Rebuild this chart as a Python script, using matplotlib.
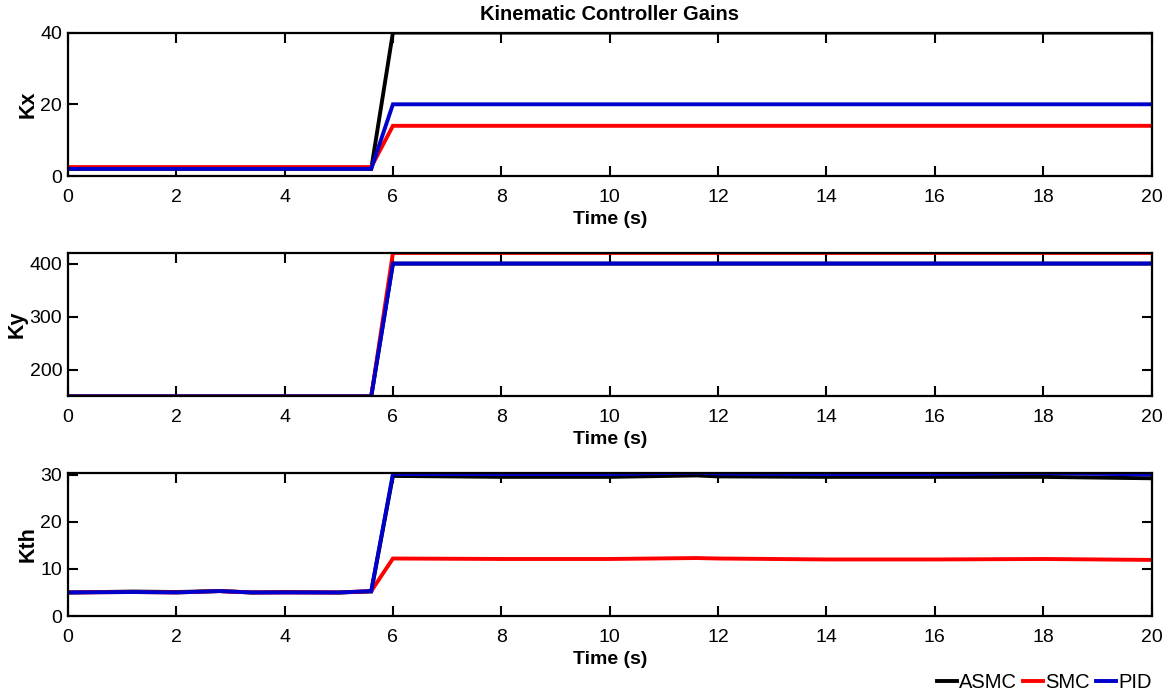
import matplotlib.pyplot as plt

plt.rcParams['font.family'] = ['Liberation Sans', 'DejaVu Sans']

# time breakpoints (s)
t = [0, 1.2, 2, 2.8, 3.4, 4, 5, 5.6, 6, 8, 10, 11.6, 12, 14, 16, 18, 20]

# Kx gains
kx_asmc = [2, 2, 2, 2, 2, 2, 2, 2, 40, 40, 40, 40, 40, 40, 40, 40, 40]
kx_smc = [2.5, 2.5, 2.5, 2.5, 2.5, 2.5, 2.5, 2.5, 14, 14, 14, 14, 14, 14, 14, 14, 14]
kx_pid = [2, 2, 2, 2, 2, 2, 2, 2, 20, 20, 20, 20, 20, 20, 20, 20, 20]

# Ky gains
ky_asmc = [150, 150, 150, 150, 150, 150, 150, 150, 400, 400, 400, 400, 400, 400, 400, 400, 400]
ky_smc = [150, 150, 150, 150, 150, 150, 150, 150, 420, 420, 420, 420, 420, 420, 420, 420, 420]
ky_pid = [150, 150, 150, 150, 150, 150, 150, 150, 400, 400, 400, 400, 400, 400, 400, 400, 400]

# Kth gains
kth_asmc = [5, 5.2, 5.1, 5.3, 5.0, 5.1, 5.0, 5.2, 29.7, 29.5, 29.5, 29.8, 29.6, 29.5, 29.5, 29.5, 29.2]
kth_smc = [5, 5.1, 5.0, 5.3, 5.0, 5.0, 5.0, 5.3, 12.2, 12.1, 12.1, 12.3, 12.2, 12.0, 12.0, 12.1, 11.9]
kth_pid = [5, 5.1, 5.0, 5.3, 5.0, 5.0, 5.0, 5.3, 30.1, 30.1, 30.1, 30.4, 30.2, 30.1, 30.1, 30.3, 30.0]

labels = ['ASMC', 'SMC', 'PID']
colors = ['black', 'red', '#0000cc']

panels = [
    ('Kx', [kx_asmc, kx_smc, kx_pid], (0, 40), [0, 20, 40]),
    ('Ky', [ky_asmc, ky_smc, ky_pid], (150, 420), [200, 300, 400]),
    ('Kth', [kth_asmc, kth_smc, kth_pid], (0, 30.4), [0, 10, 20, 30]),
]

fig = plt.figure(figsize=(11.68, 6.93), dpi=100)
bottoms = [0.746, 0.428, 0.111]
height = 0.207

for (name, series, ylim, yticks), b in zip(panels, bottoms):
    ax = fig.add_axes([0.058, b, 0.928, height])
    for s, c, lab in zip(series, colors, labels):
        ax.plot(t, s, color=c, lw=2.8, label=lab, solid_joinstyle='miter')
    ax.set_xlim(0, 20)
    ax.set_ylim(*ylim)
    ax.set_xticks(range(0, 21, 2))
    ax.set_yticks(yticks)
    ax.tick_params(direction='in', length=7, width=1.5, top=True, right=True,
                   labelsize=14, pad=4, colors='black')
    ax.tick_params(axis='x', pad=9)
    for sp in ax.spines.values():
        sp.set_linewidth(1.6)
    ax.set_xlabel('Time (s)', fontsize=14, fontweight='bold', labelpad=4)
    ax.set_ylabel(name, fontsize=15.5, fontweight='bold', labelpad=1)
    if name == 'Kx':
        ax.set_title('Kinematic Controller Gains', fontsize=14.5, fontweight='bold', pad=9)
    last = ax

handles, labs = last.get_legend_handles_labels()
fig.legend(handles, labs, loc='lower right', bbox_to_anchor=(0.993, -0.01), ncol=3,
           frameon=False, fontsize=14.5, handlelength=1.0, handletextpad=0.1,
           columnspacing=0.3, borderaxespad=0.0)

fig.savefig('out.png', dpi=100)
